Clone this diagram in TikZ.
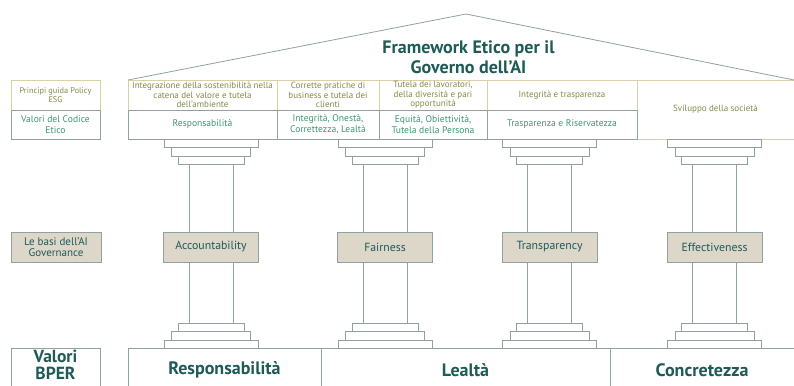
\documentclass[tikz,border=0pt]{standalone}
\usepackage{fontspec}
\setmainfont{PT Sans}
\usetikzlibrary{positioning}
\definecolor{khaki}{HTML}{D6D2A4}
\definecolor{olivetext}{HTML}{808B45}
\definecolor{greentext}{HTML}{3B9670}
\definecolor{pilline}{HTML}{8FA29D}
\definecolor{darkteal}{HTML}{1F5A56}
\definecolor{beige}{HTML}{DDD7CA}

\begin{document}
\begin{tikzpicture}[x=1pt,y=-1pt,
	every node/.style={inner sep=0pt,outer sep=0pt,align=center},
	toprow/.style={draw=khaki,line width=0.7pt,minimum height=30pt,text=olivetext,font=\fontsize{9}{9.7}\selectfont},
	midrow/.style={draw=pilline,line width=0.7pt,minimum height=29pt,text=greentext,font=\fontsize{9.6}{11}\selectfont},
	slab/.style={draw=pilline,line width=0.8pt,fill=white,minimum height=8.5pt},
	basis/.style={draw=pilline,line width=0.8pt,fill=beige,minimum width=95pt,minimum height=30pt,text=darkteal,font=\fontsize{11.8}{12}\selectfont},
	pillar/.style={draw=pilline,line width=0.8pt},
	bottomcell/.style={draw=pilline,line width=0.8pt,minimum height=44pt,text=darkteal,font=\fontsize{18}{18}\selectfont\bfseries}]
	\useasboundingbox (0,0) rectangle (794,385);
	\node[toprow,minimum width=89pt,anchor=north west,font=\fontsize{8.3}{9.5}\selectfont] (esg0) at (11,80) {Principi guida Policy\\ESG};
	\node[midrow,minimum width=89pt,below=0pt of esg0] (cod0) {Valori del Codice\\Etico};
	\node[toprow,minimum width=149pt,anchor=north west] (esg1) at (128,80) {Integrazione della sostenibilità nella\\catena del valore e tutela\\dell’ambiente};
	\node[toprow,minimum width=102pt,right=0pt of esg1] (esg2) {Corrette pratiche di\\business e tutela dei\\clienti};
	\node[toprow,minimum width=108pt,right=0pt of esg2] (esg3) {Tutela dei lavoratori,\\della diversità e pari\\opportunità};
	\node[toprow,minimum width=150pt,right=0pt of esg3] (esg4) {Integrità e trasparenza};
	\node[toprow,minimum width=157pt,minimum height=59pt,anchor=north west] (esg5) at (esg4.north east) {Sviluppo della società};
	\node[midrow,minimum width=149pt,below=0pt of esg1] (cod1) {Responsabilità};
	\node[midrow,minimum width=102pt,below=0pt of esg2] (cod2) {Integrità, Onestà,\\Correttezza, Lealtà};
	\node[midrow,minimum width=108pt,below=0pt of esg3] (cod3) {Equità, Obiettività,\\Tutela della Persona};
	\node[midrow,minimum width=150pt,below=0pt of esg4] (cod4) {Trasparenza e Riservatezza};
	\coordinate (apex) at (466,14);
	\draw[pillar] (esg1.north west) -- (apex) -- (esg5.north east);
	\node[text=darkteal,font=\fontsize{18}{20}\selectfont\bfseries] (fw) at (468.5,57) {Framework Etico per il\\Governo dell’AI};
	\node[basis,minimum width=90pt,anchor=north west,font=\fontsize{11}{11.5}\selectfont] (gov0) at (11,232) {Le basi dell’AI\\Governance};
	\foreach \n/\c/\lab in {1/211/Accountability,2/385/Fairness,3/549.5/Transparency,4/714.5/Effectiveness}{
		\node[slab,minimum width=94pt] (capa\n) at (\c,143.25) {};
		\node[slab,minimum width=79pt] (capb\n) at (\c,151.75) {};
		\node[slab,minimum width=66pt] (capc\n) at (\c,160.25) {};
		\node[basis] (pil\n) at (\c,247) {\lab};
		\node[slab,minimum width=66pt] (basa\n) at (\c,327.25) {};
		\node[slab,minimum width=79pt] (basb\n) at (\c,335.75) {};
		\node[slab,minimum width=94pt] (basc\n) at (\c,344.25) {};
		\draw[pillar] ([xshift=-22pt]capc\n.south) -- ([xshift=-22pt]pil\n.north);
		\draw[pillar] ([xshift=22pt]capc\n.south) -- ([xshift=22pt]pil\n.north);
		\draw[pillar] ([xshift=-22pt]pil\n.south) -- ([xshift=-22pt]basa\n.north);
		\draw[pillar] ([xshift=22pt]pil\n.south) -- ([xshift=22pt]basa\n.north);
	}
	\node[bottomcell,minimum width=89pt,anchor=north west] (bper0) at (11,348) {};
	\node[anchor=north,text=darkteal,font=\fontsize{17.5}{17}\selectfont\bfseries] (bpertxt) at (55.5,350.5) {Valori\\BPER};
	\node[bottomcell,minimum width=193pt,anchor=north west] (bper1) at (128,348) {Responsabilità};
	\node[bottomcell,minimum width=289pt,right=0pt of bper1] (bper2) {Lealtà};
	\node[bottomcell,minimum width=184pt,right=0pt of bper2] (bper3) {Concretezza};
\end{tikzpicture}
\end{document}
